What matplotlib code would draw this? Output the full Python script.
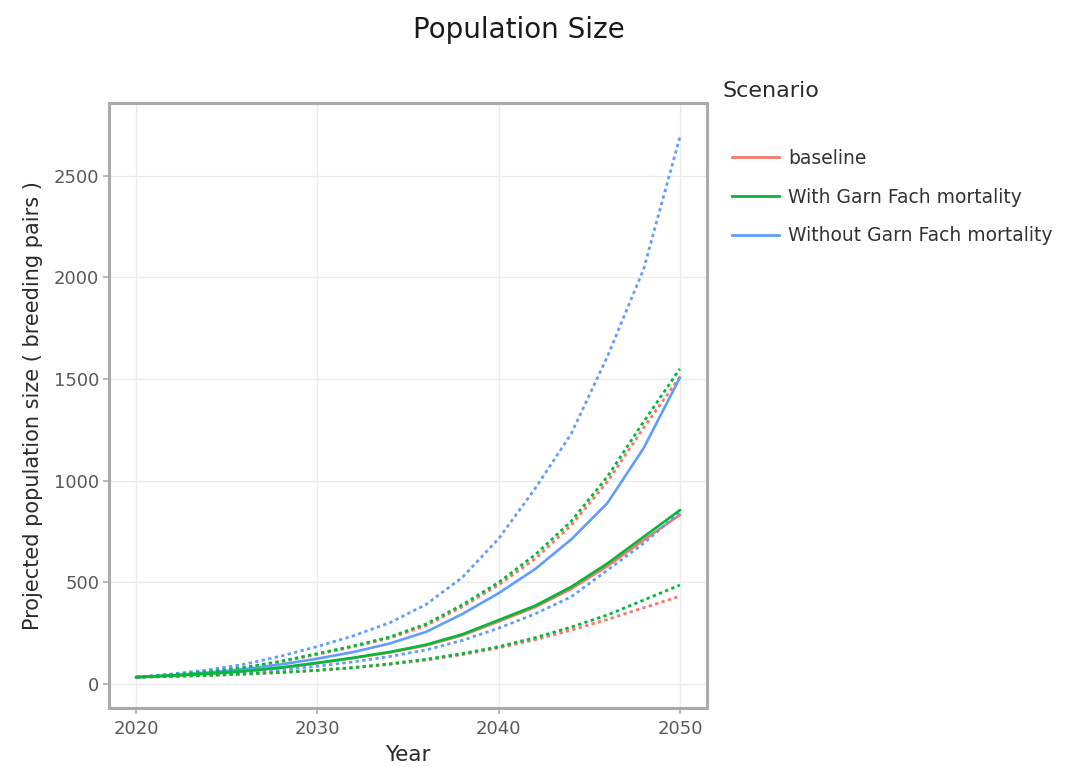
import matplotlib.pyplot as plt
from matplotlib.lines import Line2D

years = [2020, 2022, 2024, 2026, 2028, 2030, 2032, 2034,
         2036, 2038, 2040, 2042, 2044, 2046, 2048, 2050]

# baseline
base_mean = [34, 42, 51, 63, 80, 102, 128, 156, 190, 240, 308, 378, 468, 580, 708, 832]
base_upper = [34, 45, 60, 80, 110, 146, 184, 226, 288, 380, 488, 615, 780, 995, 1260, 1510]
base_lower = [34, 38, 43, 49, 57, 67, 80, 97, 118, 145, 178, 218, 265, 318, 375, 432]

# with Garn Fach mortality
with_mean = [34, 42, 52, 64, 82, 105, 130, 158, 194, 245, 315, 385, 478, 593, 724, 855]
with_upper = [34, 46, 61, 82, 113, 150, 188, 232, 296, 390, 500, 635, 800, 1020, 1290, 1550]
with_lower = [34, 38, 43, 50, 58, 68, 82, 100, 122, 150, 184, 228, 280, 340, 413, 487]

# without Garn Fach mortality
without_mean = [34, 44, 57, 74, 97, 125, 158, 200, 257, 345, 447, 565, 711, 890, 1160, 1506]
without_upper = [34, 50, 70, 98, 138, 185, 238, 302, 392, 525, 715, 960, 1230, 1610, 2040, 2690]
without_lower = [34, 40, 48, 58, 71, 88, 110, 136, 168, 215, 275, 345, 429, 560, 692, 845]

scenarios = ["baseline", "With Garn Fach mortality", "Without Garn Fach mortality"]
colors = ["#F8766D", "#00BA38", "#619CFF"]
series = [
    (base_mean, base_upper, base_lower),
    (with_mean, with_upper, with_lower),
    (without_mean, without_upper, without_lower),
]
zorders = [2.0, 2.2, 2.1]

fig = plt.figure(figsize=(10.66, 7.67), dpi=100)
ax = fig.add_axes([0.1023, 0.0773, 0.5610, 0.7880])

dot = (0, (1.2, 1.2))
for (mean, upper, lower), c, z in zip(series, colors, zorders):
    ax.plot(years, upper, color=c, lw=2.0, linestyle=dot, zorder=z)
    ax.plot(years, lower, color=c, lw=2.0, linestyle=dot, zorder=z)
    ax.plot(years, mean, color=c, lw=1.9, zorder=z + 0.05)

ax.set_xlim(2018.5, 2051.5)
ax.set_ylim(-116, 2855)
ax.set_xticks([2020, 2030, 2040, 2050])
ax.set_yticks([0, 500, 1000, 1500, 2000, 2500])
ax.grid(color="#ebebeb", lw=1.0)
ax.set_axisbelow(True)

for s in ax.spines.values():
    s.set_color("#ababab")
    s.set_linewidth(2.2)
ax.tick_params(axis="both", colors="#ababab", length=4, width=1.2,
               labelcolor="#595959", labelsize=13)
ax.tick_params(axis="x", pad=5)
ax.tick_params(axis="y", pad=3)

ax.set_xlabel("Year", fontsize=15.5, color="#2b2b2b", labelpad=5)
ax.set_ylabel("Projected population size ( breeding pairs )", fontsize=15,
              color="#2b2b2b", labelpad=8)

fig.text(519 / 1066, 1 - 30 / 767, "Population Size", fontsize=20,
         ha="center", va="center", color="#1a1a1a")

# legend
fig.text(723 / 1066, 1 - 91 / 767, "Scenario", fontsize=16,
         ha="left", va="center", color="#2b2b2b")
handles = [Line2D([], [], color=c, lw=2.0) for c in colors]
fig.legend(handles, scenarios, loc="upper left",
           bbox_to_anchor=(732 / 1066, 1 - 149 / 767), frameon=False,
           fontsize=13.5, labelcolor="#333333", handlelength=2.5,
           handletextpad=0.5, labelspacing=1.05, borderaxespad=0,
           borderpad=0)

fig.savefig("out.png", dpi=100, facecolor="white")
